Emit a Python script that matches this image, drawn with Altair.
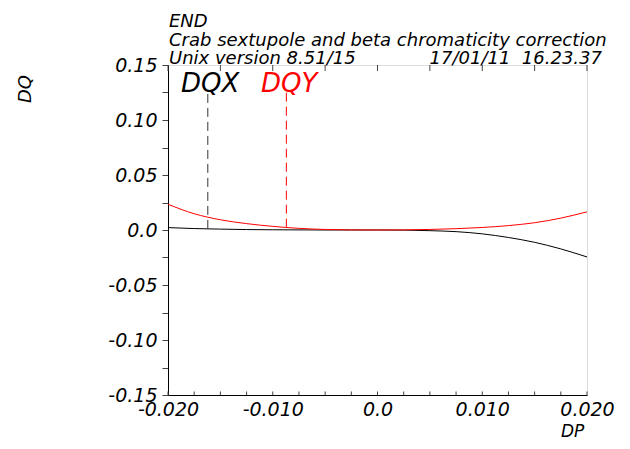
import altair as alt
import pandas as pd

dp = [-0.02, -0.0175, -0.015, -0.0125, -0.01, -0.0075, -0.005, -0.0025, 0.0,
      0.0025, 0.005, 0.0075, 0.01, 0.0125, 0.015, 0.0175, 0.02]
dqx = [0.0022, 0.0013, 0.0008, 0.0004, 0.0002, 0.0001, 0.0, 0.0, 0.0,
       -0.0001, -0.0006, -0.0015, -0.0035, -0.0068, -0.0112, -0.0172, -0.0245]
dqy = [0.0234, 0.0148, 0.0093, 0.0058, 0.0033, 0.0015, 0.0005, 0.0001, 0.0,
       0.0001, 0.0005, 0.0012, 0.0023, 0.0040, 0.0066, 0.0108, 0.0165]

marker_x_dp, marker_x_lo, marker_x_hi = -0.0162, 0.0010, 0.126
marker_y_dp, marker_y_lo, marker_y_hi = -0.0087, 0.0021, 0.126

x_major = [-0.02, -0.01, 0.0, 0.01, 0.02]
x_minor = [round(-0.02 + 0.0025 * i, 4) for i in range(17)]
x_top = [round(-0.02 + 0.005 * i, 4) for i in range(9)]
y_all = [round(-0.15 + 0.025 * i, 3) for i in range(13)]

W, H = 419, 330
FONT = "DejaVu Sans"

df = pd.DataFrame({"DP": dp, "DQX": dqx, "DQY": dqy})

xdom = alt.Scale(domain=[-0.02, 0.02], nice=False, zero=False)
ydom = alt.Scale(domain=[-0.15, 0.15], nice=False, zero=False)

x_main_axis = alt.Axis(
    orient="bottom", values=x_major, ticks=False, domain=True,
    domainColor="black", labelPadding=5, labelFlush=False, labelOverlap=False,
    labelExpr="datum.value == 0 ? '0.0' : (datum.value < 0 ? '-' : '') + format(abs(datum.value), '.3f')",
    labelFont=FONT, labelFontSize=19, labelFontStyle="italic",
    labelColor="black", title=None, grid=False,
)
y_main_axis = alt.Axis(
    orient="left", values=y_all, tickSize=6, tickColor="#444444",
    domainColor="black", labelPadding=5, labelFlush=False, labelOverlap=False,
    labelExpr="abs(round(datum.value*1000) % 50) == 25 ? '' : (datum.value == 0 ? '0.0' : (datum.value < 0 ? '-' : '') + format(abs(datum.value), '.2f'))",
    labelFont=FONT, labelFontSize=19, labelFontStyle="italic",
    labelColor="black", title=None, grid=False,
)

line_x = alt.Chart(df).mark_line(color="black", strokeWidth=1, interpolate="monotone").encode(
    x=alt.X("DP:Q", scale=xdom, axis=x_main_axis),
    y=alt.Y("DQX:Q", scale=ydom, axis=y_main_axis),
)
line_y = alt.Chart(df).mark_line(color="#ff0000", strokeWidth=1, interpolate="monotone").encode(
    x=alt.X("DP:Q", scale=xdom, axis=None),
    y=alt.Y("DQY:Q", scale=ydom, axis=None),
)


def marker(dpv, lo, hi, color):
    d = pd.DataFrame({"DP": [dpv], "lo": [lo], "hi": [hi]})
    return alt.Chart(d).mark_rule(strokeWidth=1, strokeDash=[9, 5], color=color).encode(
        x=alt.X("DP:Q", scale=xdom, axis=None),
        y=alt.Y("lo:Q", scale=ydom, axis=None),
        y2="hi:Q",
    )


def edge_ticks(values, y0, y1):
    # inward tick marks on the top / bottom frame, placed through the scales
    d = pd.DataFrame({"DP": values})
    return alt.Chart(d).mark_rule(color="#444444", strokeWidth=1).encode(
        x=alt.X("DP:Q", scale=xdom, axis=None),
        y=alt.Y(datum=y0, type="quantitative", scale=ydom, axis=None),
        y2=alt.Y2(datum=y1),
    )


def txt(s, x, y, size, color="black", align="left", angle=0, baseline="alphabetic"):
    return alt.Chart(pd.DataFrame({"t": [s]})).mark_text(
        align=align, baseline=baseline, font=FONT, fontSize=size,
        fontStyle="italic", color=color, angle=angle,
    ).encode(text="t:N", x=alt.value(x), y=alt.value(y))


texts = [
    txt("END", 1, -38.5, 18),
    txt("Crab sextupole and beta chromaticity correction", 1, -19.5, 18),
    txt("Unix version 8.51/15", 1, -1, 18),
    txt("17/01/11\u00a0\u00a016.23.37", 434, -1, 18, align="right"),
    txt("DQX", 13, 26.5, 26),
    txt("DQY", 93, 26.5, 26, color="#ff0000"),
    txt("DP", 393, 372, 17),
    txt("DQ", -142, 24, 18, angle=270, align="center", baseline="middle"),
]

chart = alt.layer(
    line_x, line_y,
    marker(marker_x_dp, marker_x_lo, marker_x_hi, "#333333"),
    marker(marker_y_dp, marker_y_lo, marker_y_hi, "#ff0000"),
    edge_ticks(x_minor, -0.15, -0.1468),
    edge_ticks(x_top, 0.15, 0.1445),
    *texts
).resolve_scale(
    x="independent", y="independent"
).properties(
    width=W, height=H,
    autosize=alt.AutoSizeParams(type="none"),
    padding={"left": 160, "top": 57, "right": 35, "bottom": 46},
).configure_view(stroke="black", strokeWidth=1).configure(background="white")

chart.save("out.html", embed_options={"renderer": "svg", "actions": False})
